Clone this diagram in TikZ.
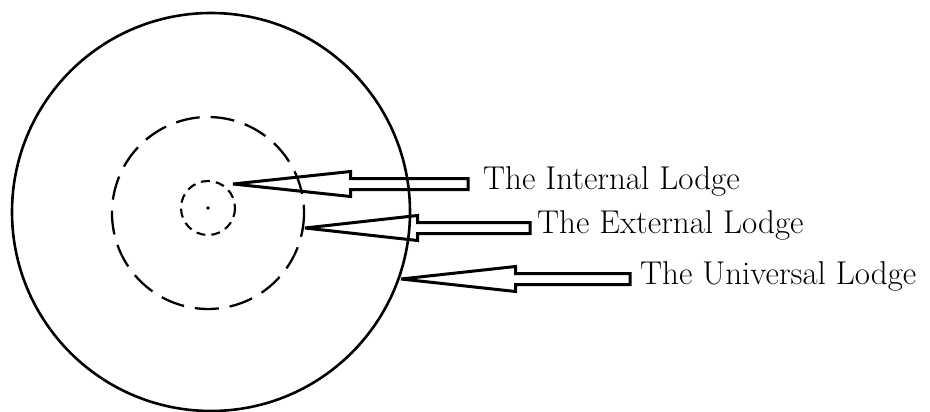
\documentclass[tikz,border=0pt]{standalone}
\usepackage{tikz}
\usetikzlibrary{calc}

\tikzset{
  ringline/.style={line width=2.6pt},
  dashring/.style={line width=2.3pt, dash pattern=on 24pt off 11pt},
  smallring/.style={line width=2.1pt, dash pattern=on 9pt off 6pt},
  arrowline/.style={line width=3pt, line join=miter, miter limit=3},
  lodgelabel/.style={anchor=mid west, inner sep=0pt, font=\fontsize{33}{36}\selectfont}
}

% hollow arrow from tip #1 back to tail #2
\newcommand{\lodgearrow}[2]{%
  \draw[arrowline] (#1) -- ($(#1)!0.5!(#2)+(0,-12.5)$) -- ($(#1)!0.5!(#2)+(0,-5.5)$)
    -- ($(#2)+(0,-5.5)$) -- ($(#2)+(0,5.5)$) -- ($(#1)!0.5!(#2)+(0,5.5)$)
    -- ($(#1)!0.5!(#2)+(0,12.5)$) -- cycle;}

\begin{document}
\begin{tikzpicture}[x=1pt, y=-1pt]
  \useasboundingbox (0,0) rectangle (930,412);

  % the three lodges
  \draw[ringline] (211,212) circle (199);
  \draw[dashring] (208,213) circle (96);
  \draw[smallring] (208,208) circle (27);
  \fill (208,208) circle (1.8);

  % labels
  \node[lodgelabel] (internal) at (483,187) {The Internal Lodge};
  \node[lodgelabel] (external) at (537,231) {The External Lodge};
  \node[lodgelabel] (universal) at (640,282) {The Universal Lodge};

  % arrow tips and tails
  \coordinate (tipA) at (233,184);
  \coordinate (tipB) at (305,228);
  \coordinate (tipC) at (401,279);
  \coordinate (tailA) at ($(tipA -| internal.west)+(-15,0)$);
  \coordinate (tailB) at ($(tipB -| external.west)+(-7,0)$);
  \coordinate (tailC) at ($(tipC -| universal.west)+(-10,0)$);

  \lodgearrow{tipA}{tailA}
  \lodgearrow{tipB}{tailB}
  \lodgearrow{tipC}{tailC}
\end{tikzpicture}
\end{document}
